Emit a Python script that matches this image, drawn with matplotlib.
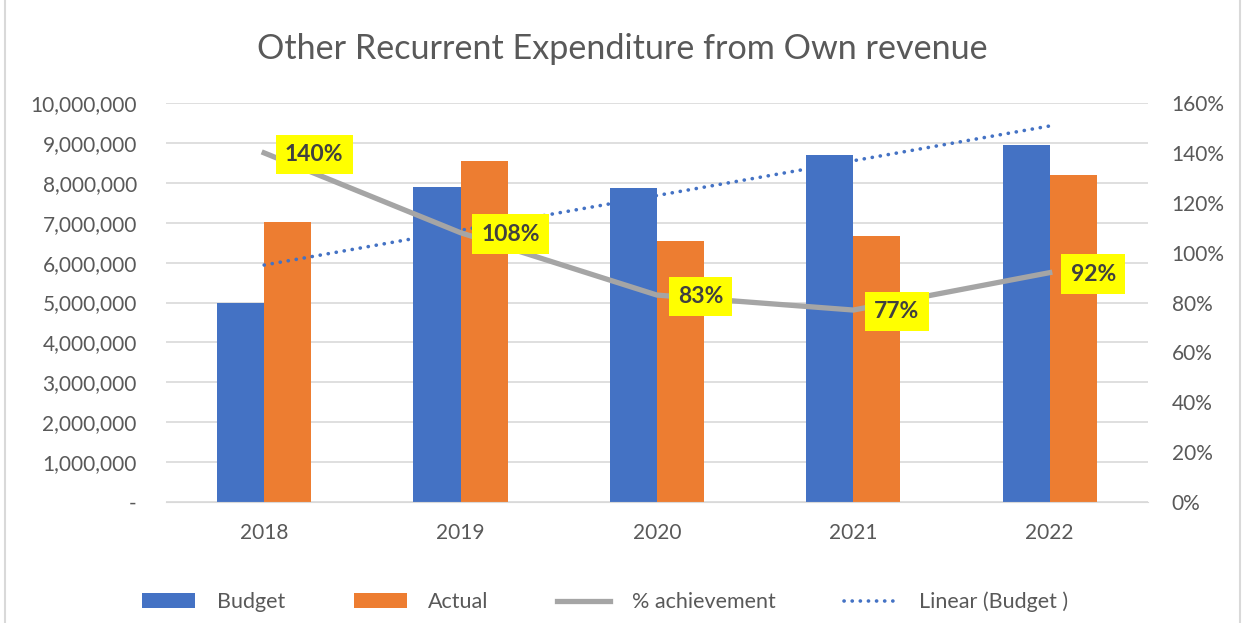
import matplotlib.pyplot as plt
import numpy as np
from matplotlib.patches import Rectangle
from matplotlib.ticker import FuncFormatter

plt.rcParams['font.family'] = ['Lato', 'DejaVu Sans']

# Data
years = ["2018", "2019", "2020", "2021", "2022"]
budget = [5000000, 7890000, 7870000, 8700000, 8950000]
actual = [7010000, 8540000, 6550000, 6670000, 8200000]
achievement = [1.40, 1.08, 0.83, 0.77, 0.92]
achievement_labels = ["140%", "108%", "83%", "77%", "92%"]

blue = '#4472C4'
orange = '#ED7D31'
grey = '#A5A5A5'
text_col = '#595959'

fig = plt.figure(figsize=(12.45, 6.23), dpi=100)
ax1 = fig.add_axes([0.1333, 0.194, 0.7887, 0.6407])

x = np.arange(len(years))
w = 0.24
ax1.bar(x - w / 2, budget, w, color=blue, label="Budget", zorder=2)
ax1.bar(x + w / 2, actual, w, color=orange, label="Actual", zorder=2)

# Linear trendline of budget
coef = np.polyfit(x, budget, 1)
ax1.plot(x, np.polyval(coef, x), color=blue, linestyle=(0, (0.05, 2.2)),
         linewidth=2.6, dash_capstyle='round', label="Linear (Budget )", zorder=3)

ax1.set_xlim(-0.5, len(years) - 0.5)
ax1.set_ylim(0, 10000000)
ax1.set_yticks(np.arange(0, 10000001, 1000000))
ax1.yaxis.set_major_formatter(FuncFormatter(lambda v, p: "-" if v == 0 else f"{v:,.0f}"))
ax1.set_xticks(x)
ax1.set_xticklabels(years)
ax1.grid(axis='y', color='#D9D9D9', linewidth=1.2, zorder=0)
ax1.set_axisbelow(True)
for s in ax1.spines.values():
    s.set_visible(False)
ax1.spines['bottom'].set_visible(True)
ax1.spines['bottom'].set_color('#D9D9D9')
ax1.tick_params(axis='both', length=0, labelsize=15, colors=text_col)
ax1.tick_params(axis='y', pad=21)
ax1.tick_params(axis='x', pad=15)

ax2 = ax1.twinx()
ax2.plot(x, achievement, color=grey, linewidth=3.8, label="% achievement", zorder=4)
ax2.set_ylim(0, 1.6)
ax2.set_yticks(np.arange(0, 1.61, 0.2))
ax2.yaxis.set_major_formatter(FuncFormatter(lambda v, p: f"{v * 100:.0f}%"))
ax2.tick_params(axis='y', length=0, labelsize=15, colors=text_col, pad=17)
for s in ax2.spines.values():
    s.set_visible(False)

for xi, yi, lab in zip(x, achievement, achievement_labels):
    ax2.annotate(lab, (xi, yi), xytext=(15, -1), textcoords='offset points',
                 ha='left', va='center', fontsize=16.5, fontweight='bold', color='#404040',
                 bbox=dict(boxstyle='square,pad=0.4', fc='#FFFF00', ec='none'), zorder=5)

fig.text(0.5, 0.922, "Other Recurrent Expenditure from Own revenue", ha='center', va='center',
         fontsize=24.6, color=text_col)

h1, l1 = ax1.get_legend_handles_labels()
h2, l2 = ax2.get_legend_handles_labels()
handles = [h1[1], h1[2], h2[0], h1[0]]
labels = [l1[1], l1[2], l2[0], l1[0]]
fig.legend(handles, labels, loc='center', bbox_to_anchor=(0.486, 0.034), ncol=4, frameon=False,
           fontsize=15.5, labelcolor=text_col, handlelength=2.45, columnspacing=3.2, handletextpad=1.0)

fig.patches.append(Rectangle((0.004, -0.01), 0.992, 1.02, transform=fig.transFigure,
                             fill=False, edgecolor='#D9D9D9', linewidth=1.5))

fig.savefig("out.png", dpi=100)
